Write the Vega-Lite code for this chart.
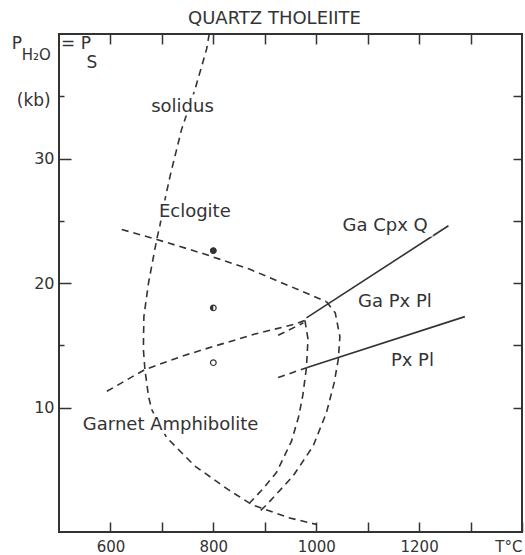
{
  "$schema": "https://vega.github.io/schema/vega-lite/v6.json",
  "width": 463,
  "height": 498,
  "autosize": "none",
  "padding": {"left": 59, "top": 34, "right": 3, "bottom": 21},
  "background": "white",
  "title": {"text": "QUARTZ  THOLEIITE", "font": "DejaVu Sans", "fontSize": 18, "fontWeight": "normal", "color": "#333", "offset": 3, "dx": -16},
  "config": {
    "view": {"stroke": "#333", "strokeWidth": 2},
    "axis": {"domain": false, "grid": false, "title": null, "labelFont": "DejaVu Sans", "labelFontSize": 15, "labelColor": "#333", "tickColor": "#333", "tickWidth": 1.5, "labelOverlap": false},
    "text": {"font": "DejaVu Sans", "color": "#333"}
  },
  "datasets": {
    "dashed": [
      {"curve": "solidus", "seq": 1, "T": 792, "P": 40},
      {"curve": "solidus", "seq": 2, "T": 787, "P": 38.8},
      {"curve": "solidus", "seq": 3, "T": 764, "P": 35.5},
      {"curve": "solidus", "seq": 4, "T": 738, "P": 32.3},
      {"curve": "solidus", "seq": 5, "T": 716, "P": 28.6},
      {"curve": "solidus", "seq": 6, "T": 706, "P": 26.7},
      {"curve": "solidus", "seq": 7, "T": 696, "P": 24.6},
      {"curve": "solidus", "seq": 8, "T": 690, "P": 23.5},
      {"curve": "solidus", "seq": 9, "T": 674, "P": 20.0},
      {"curve": "solidus", "seq": 10, "T": 665, "P": 17.3},
      {"curve": "solidus", "seq": 11, "T": 664, "P": 14.7},
      {"curve": "solidus", "seq": 12, "T": 667, "P": 13.05},
      {"curve": "solidus", "seq": 13, "T": 674, "P": 10.9},
      {"curve": "solidus", "seq": 14, "T": 680, "P": 9.85},
      {"curve": "solidus", "seq": 15, "T": 709, "P": 7.6},
      {"curve": "solidus", "seq": 16, "T": 764, "P": 5.3},
      {"curve": "solidus", "seq": 17, "T": 829, "P": 3.4},
      {"curve": "solidus", "seq": 18, "T": 875, "P": 2.2},
      {"curve": "solidus", "seq": 19, "T": 946, "P": 1.15},
      {"curve": "solidus", "seq": 20, "T": 1001, "P": 0.6},
      {"curve": "eclogite", "seq": 1, "T": 622, "P": 24.3},
      {"curve": "eclogite", "seq": 2, "T": 690, "P": 23.5},
      {"curve": "eclogite", "seq": 3, "T": 781, "P": 22.35},
      {"curve": "eclogite", "seq": 4, "T": 871, "P": 21.1},
      {"curve": "eclogite", "seq": 5, "T": 1020, "P": 18.5},
      {"curve": "amphibolite", "seq": 1, "T": 593, "P": 11.3},
      {"curve": "amphibolite", "seq": 2, "T": 667, "P": 13.05},
      {"curve": "amphibolite", "seq": 3, "T": 745, "P": 14.2},
      {"curve": "amphibolite", "seq": 4, "T": 800, "P": 14.9},
      {"curve": "amphibolite", "seq": 5, "T": 881, "P": 15.9},
      {"curve": "amphibolite", "seq": 6, "T": 959, "P": 16.7},
      {"curve": "amphibolite", "seq": 7, "T": 978, "P": 17.0},
      {"curve": "cpxq_ext", "seq": 1, "T": 926, "P": 15.8},
      {"curve": "cpxq_ext", "seq": 2, "T": 975, "P": 16.8},
      {"curve": "pxpl_ext", "seq": 1, "T": 926, "P": 12.4},
      {"curve": "pxpl_ext", "seq": 2, "T": 981, "P": 13.2},
      {"curve": "inner", "seq": 1, "T": 978, "P": 17.0},
      {"curve": "inner", "seq": 2, "T": 984, "P": 15.5},
      {"curve": "inner", "seq": 3, "T": 981, "P": 13.2},
      {"curve": "inner", "seq": 4, "T": 974, "P": 11.0},
      {"curve": "inner", "seq": 5, "T": 966, "P": 9.3},
      {"curve": "inner", "seq": 6, "T": 952, "P": 7.3},
      {"curve": "inner", "seq": 7, "T": 923, "P": 4.8},
      {"curve": "inner", "seq": 8, "T": 895, "P": 3.4},
      {"curve": "inner", "seq": 9, "T": 871, "P": 2.35},
      {"curve": "outer", "seq": 1, "T": 1020, "P": 18.5},
      {"curve": "outer", "seq": 2, "T": 1037, "P": 17.6},
      {"curve": "outer", "seq": 3, "T": 1046, "P": 15.7},
      {"curve": "outer", "seq": 4, "T": 1043, "P": 13.9},
      {"curve": "outer", "seq": 5, "T": 1035, "P": 12.0},
      {"curve": "outer", "seq": 6, "T": 1020, "P": 9.6},
      {"curve": "outer", "seq": 7, "T": 994, "P": 6.9},
      {"curve": "outer", "seq": 8, "T": 955, "P": 4.5},
      {"curve": "outer", "seq": 9, "T": 904, "P": 2.2},
      {"curve": "outer", "seq": 10, "T": 891, "P": 1.7}
    ],
    "solid": [
      {"curve": "GaCpxQ", "T": 981, "P": 17.2},
      {"curve": "GaCpxQ", "T": 1257, "P": 24.6},
      {"curve": "PxPl", "T": 981, "P": 13.2},
      {"curve": "PxPl", "T": 1289, "P": 17.3}
    ],
    "samples": [
      {"run": "Eclogite", "T": 800, "P": 22.6},
      {"run": "Transitional", "T": 800, "P": 18.0},
      {"run": "Garnet Amphibolite", "T": 800, "P": 13.6}
    ],
    "labels": [
      {"label": "solidus", "T": 740, "P": 34.1},
      {"label": "Eclogite", "T": 764, "P": 25.7},
      {"label": "Ga Cpx Q", "T": 1134, "P": 24.6},
      {"label": "Ga Px Pl", "T": 1153, "P": 18.5},
      {"label": "Px Pl", "T": 1187, "P": 13.7},
      {"label": "Garnet Amphibolite", "T": 717, "P": 8.6}
    ],
    "ylabel": [
      {"label": "P", "T": 418, "P": 39.2},
      {"label": "= P", "T": 533, "P": 39.2},
      {"label": "S", "T": 564, "P": 37.7},
      {"label": "(kb)", "T": 451, "P": 34.65}
    ],
    "ysub": [
      {"label": "H₂O", "T": 456, "P": 38.3}
    ]
  },
  "resolve": {"axis": {"x": "independent", "y": "independent"}},
  "layer": [
    {
      "data": {"name": "dashed"},
      "mark": {"type": "line", "strokeDash": [7, 5], "strokeWidth": 1.6, "color": "#333"},
      "encoding": {
        "x": {"field": "T", "type": "quantitative", "scale": {"domain": [500, 1400], "nice": false, "zero": false},
          "axis": {"orient": "bottom", "values": [600, 700, 800, 900, 1000, 1100, 1200, 1300, 1400], "format": "d",
            "labelExpr": "datum.value == 1400 ? 'T°C' : (datum.value % 200 == 0 ? datum.label : '')",
            "offset": -10, "tickSize": 10, "labelPadding": 7, "labelFlush": true}},
        "y": {"field": "P", "type": "quantitative", "scale": {"domain": [0, 40], "nice": false, "zero": false},
          "axis": {"orient": "left", "values": [10, 20, 30], "offset": -12, "tickSize": 12, "labelPadding": 5, "labelFontSize": 16}},
        "detail": {"field": "curve"},
        "order": {"field": "seq"}
      }
    },
    {
      "data": {"name": "solid"},
      "mark": {"type": "line", "strokeWidth": 1.6, "color": "#333"},
      "encoding": {
        "x": {"field": "T", "type": "quantitative",
          "axis": {"orient": "top", "values": [600, 700, 800, 900, 1000, 1100, 1200, 1300], "labels": false, "offset": -10, "tickSize": 10}},
        "y": {"field": "P", "type": "quantitative",
          "axis": {"orient": "right", "values": [10, 15, 20, 25, 30, 35], "labels": false, "offset": -9, "tickSize": 9}},
        "detail": {"field": "curve"}
      }
    },
    {
      "data": {"name": "labels"},
      "mark": {"type": "text", "fontSize": 18, "fill": "white", "stroke": "white", "strokeWidth": 7, "baseline": "middle"},
      "encoding": {
        "x": {"field": "T", "type": "quantitative", "axis": null},
        "y": {"field": "P", "type": "quantitative", "axis": {"orient": "left", "values": [15, 25, 35], "labels": false, "offset": -5, "tickSize": 5}},
        "text": {"field": "label"}
      }
    },
    {
      "data": {"name": "labels"},
      "mark": {"type": "text", "fontSize": 18, "baseline": "middle"},
      "encoding": {
        "x": {"field": "T", "type": "quantitative", "axis": null},
        "y": {"field": "P", "type": "quantitative", "axis": null},
        "text": {"field": "label"}
      }
    },
    {
      "data": {"name": "samples"},
      "mark": {"type": "point", "shape": "circle", "size": 32, "stroke": "#333", "strokeWidth": 1.2, "fill": "white", "filled": false, "opacity": 1},
      "encoding": {
        "x": {"field": "T", "type": "quantitative", "axis": null},
        "y": {"field": "P", "type": "quantitative", "axis": null}
      }
    },
    {
      "data": {"name": "samples"},
      "transform": [{"filter": "datum.run != 'Garnet Amphibolite'"}],
      "mark": {"type": "point", "filled": true, "size": 32, "color": "#333", "opacity": 1},
      "encoding": {
        "x": {"field": "T", "type": "quantitative", "axis": null},
        "y": {"field": "P", "type": "quantitative", "axis": null},
        "shape": {"field": "run", "type": "nominal", "scale": {"domain": ["Eclogite", "Transitional"], "range": ["circle", "M0,-1A1,1 0 0,0 0,1Z"]}, "legend": null}
      }
    },
    {
      "data": {"name": "ylabel"},
      "mark": {"type": "text", "fontSize": 17, "baseline": "middle"},
      "encoding": {
        "x": {"field": "T", "type": "quantitative", "axis": null},
        "y": {"field": "P", "type": "quantitative", "axis": null},
        "text": {"field": "label"}
      }
    },
    {
      "data": {"name": "ysub"},
      "mark": {"type": "text", "fontSize": 15, "baseline": "middle"},
      "encoding": {
        "x": {"field": "T", "type": "quantitative", "axis": null},
        "y": {"field": "P", "type": "quantitative", "axis": null},
        "text": {"field": "label"}
      }
    }
  ]
}
